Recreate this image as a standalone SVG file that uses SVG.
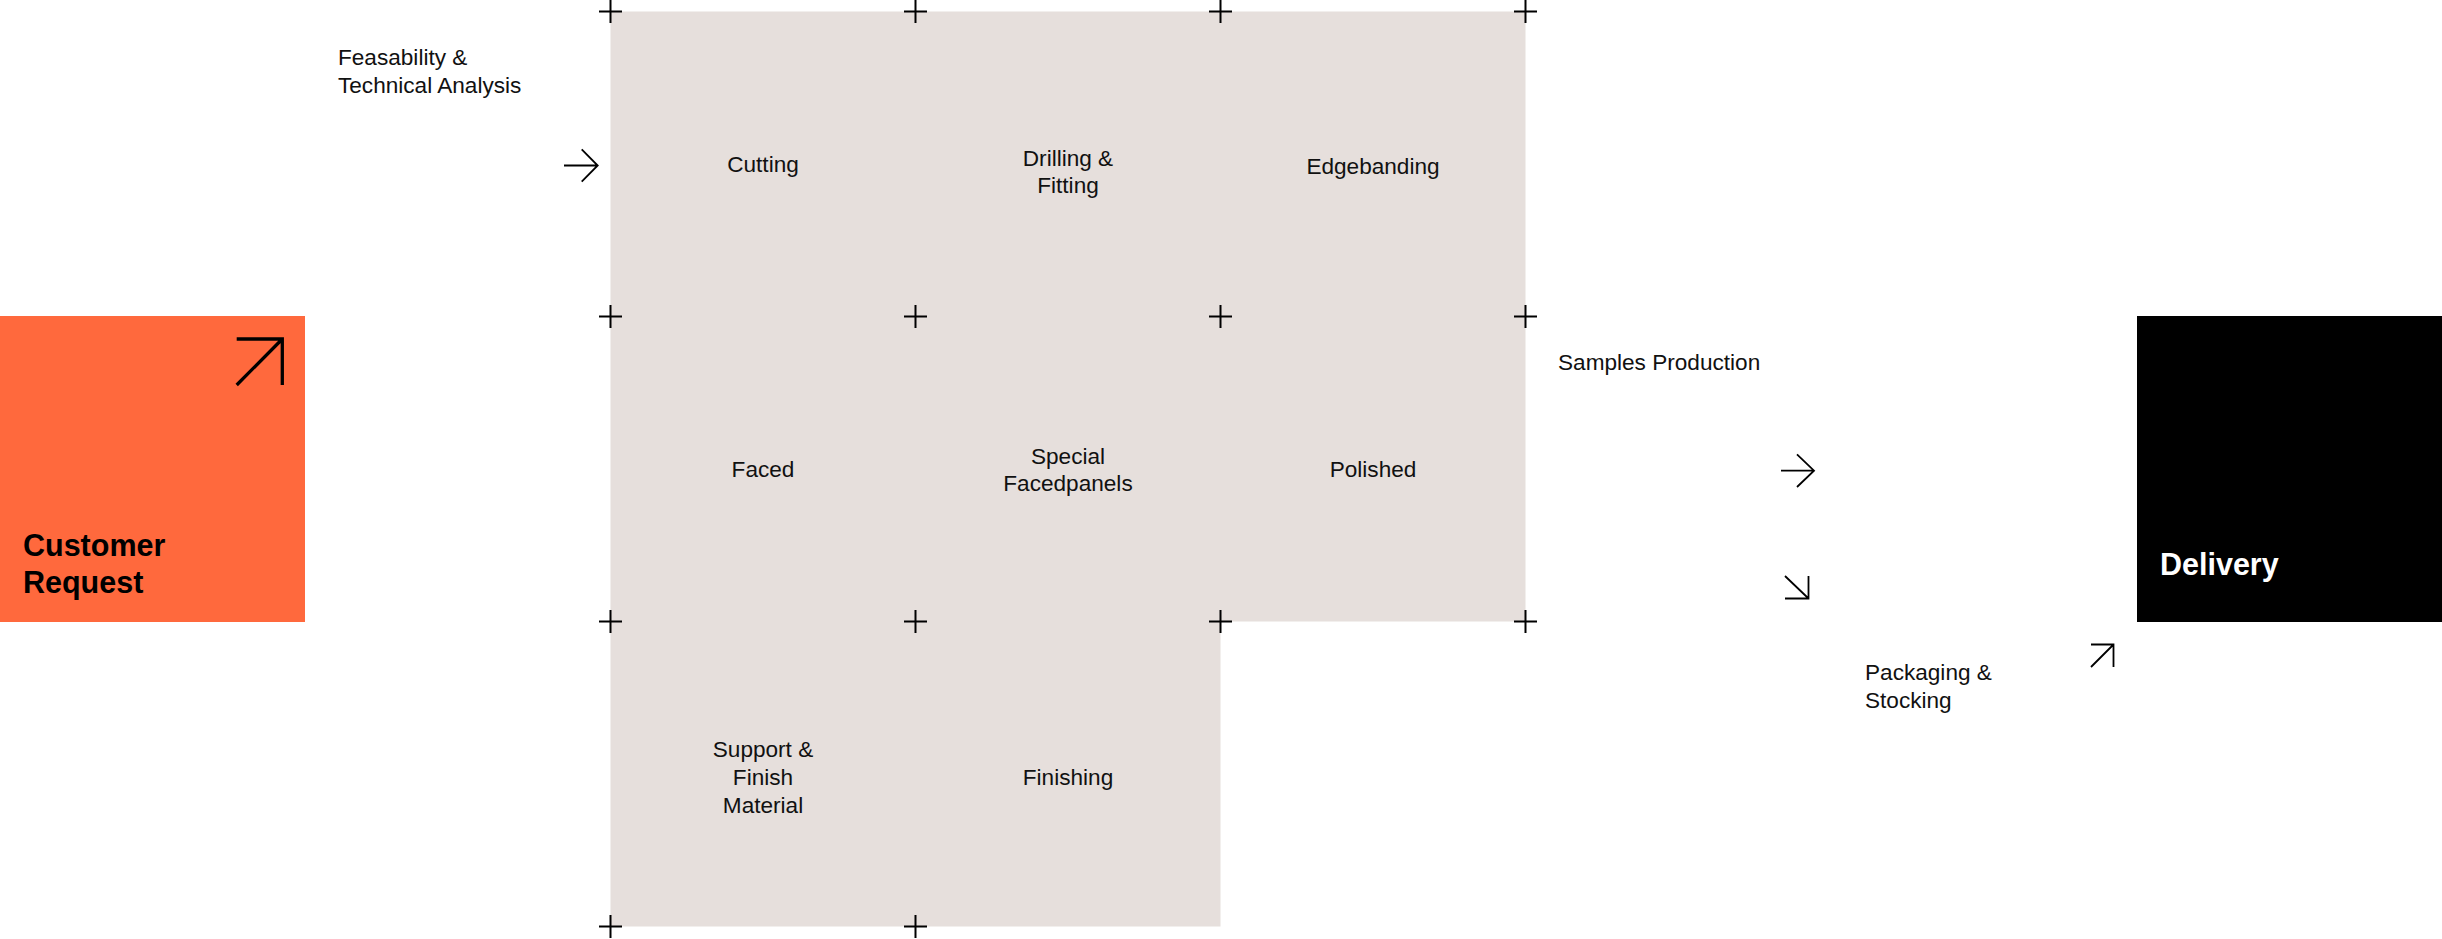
<svg xmlns="http://www.w3.org/2000/svg" width="2442" height="939" viewBox="0 0 2442 939">
  <style>
    .lbl { font-family: "Liberation Sans", Arial, sans-serif; font-size: 22.6px; fill: #111; }
    .mid { text-anchor: middle; }
    .big { font-family: "Liberation Sans", Arial, sans-serif; font-size: 30.5px; font-weight: bold; }
    .arr { fill: none; stroke: #000; stroke-width: 1.8; stroke-linecap: butt; stroke-linejoin: miter; }
    .cross { stroke: #000; stroke-width: 2; }
  </style>
  <defs>
    <path id="plus" d="M-11.5,0 H11.5 M0,-11.5 V11.5" class="cross"/>
  </defs>
  <rect width="2442" height="939" fill="#ffffff"/>

  <g id="customer-request">
    <rect x="0" y="316" width="305" height="306" fill="#FF693D"/>
    <path d="M236.7,385 L282.3,339 M236.7,339 H282.3 V385" fill="none" stroke="#000" stroke-width="3.3"/>
    <text class="big" x="23" y="556" fill="#000">Customer</text>
    <text class="big" x="23" y="593" fill="#000">Request</text>
  </g>

  <g id="production-area">
    <path d="M610.5,11.5 H1525.5 V621.5 H1220.5 V926.5 H610.5 Z" fill="#E6DFDC"/>
  </g>

  <g id="cutting"><text class="lbl mid" x="763" y="171.5">Cutting</text></g>
  <g id="drilling-fitting">
    <text class="lbl mid" x="1068" y="165.5">Drilling &amp;</text>
    <text class="lbl mid" x="1068" y="193">Fitting</text>
  </g>
  <g id="edgebanding"><text class="lbl mid" x="1373" y="174">Edgebanding</text></g>
  <g id="faced"><text class="lbl mid" x="763" y="477">Faced</text></g>
  <g id="special-facedpanels">
    <text class="lbl mid" x="1068" y="463.5">Special</text>
    <text class="lbl mid" x="1068" y="491">Facedpanels</text>
  </g>
  <g id="polished"><text class="lbl mid" x="1373" y="477">Polished</text></g>
  <g id="support-finish-material">
    <text class="lbl mid" x="763" y="756.5">Support &amp;</text>
    <text class="lbl mid" x="763" y="784.5">Finish</text>
    <text class="lbl mid" x="763" y="812.5">Material</text>
  </g>
  <g id="finishing"><text class="lbl mid" x="1068" y="784.5">Finishing</text></g>

  <g id="grid-marks">
    <use href="#plus" x="610.5" y="11.5"/>
    <use href="#plus" x="915.5" y="11.5"/>
    <use href="#plus" x="1220.5" y="11.5"/>
    <use href="#plus" x="1525.5" y="11.5"/>
    <use href="#plus" x="610.5" y="316.5"/>
    <use href="#plus" x="915.5" y="316.5"/>
    <use href="#plus" x="1220.5" y="316.5"/>
    <use href="#plus" x="1525.5" y="316.5"/>
    <use href="#plus" x="610.5" y="621.5"/>
    <use href="#plus" x="915.5" y="621.5"/>
    <use href="#plus" x="1220.5" y="621.5"/>
    <use href="#plus" x="1525.5" y="621.5"/>
    <use href="#plus" x="610.5" y="926.5"/>
    <use href="#plus" x="915.5" y="926.5"/>
  </g>

  <g id="feasability-label">
    <text class="lbl" x="338" y="65">Feasability &amp;</text>
    <text class="lbl" x="338" y="92.5">Technical Analysis</text>
  </g>
  <g id="samples-production-label">
    <text class="lbl" x="1558" y="370">Samples Production</text>
  </g>
  <g id="packaging-stocking-label">
    <text class="lbl" x="1865" y="680">Packaging &amp;</text>
    <text class="lbl" x="1865" y="707.5">Stocking</text>
  </g>

  <g id="delivery">
    <rect x="2137" y="316" width="305" height="306" fill="#000"/>
    <text class="big" x="2160" y="575" fill="#fff">Delivery</text>
  </g>

  <g id="connectors">
    <path class="arr" d="M564,165.5 H597.7 M581.7,149.3 L597.7,165.5 L581.7,181.7"/>
    <path class="arr" d="M1781,470.7 H1814 M1797,454.3 L1814,470.7 L1797,487"/>
    <path class="arr" d="M1785,576 L1808.5,598.5 M1785,598.5 H1808.5 V576"/>
    <path class="arr" d="M2091,667 L2113.5,644.5 M2091,644.5 H2113.5 V667"/>
  </g>
</svg>
